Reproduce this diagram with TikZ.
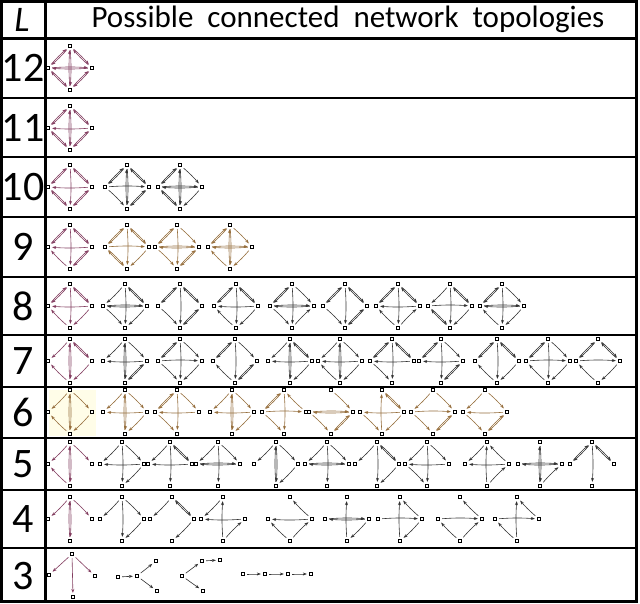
\documentclass[tikz,border=0pt]{standalone}
\usepackage{fontspec}
\setmainfont{Carlito}
\usetikzlibrary{arrows.meta}
\definecolor{plum}{RGB}{130,60,95}
\definecolor{tan}{RGB}{150,110,60}
\definecolor{pale}{RGB}{255,253,232}
\tikzset{
  vtx/.style={draw,thick,fill=white,minimum size=3.5pt,inner sep=0pt},
  edge/.style={draw=black!80,line width=0.6pt,-{Stealth[length=4pt,width=3pt]},shorten >=2pt,shorten <=2pt,bend left=4},
  rule/.style={line width=2pt},
  frame/.style={line width=3pt},
  lab/.style={font=\fontsize{42}{42}\selectfont},
}
\newcommand\dia[4][black!80]{%
  \node[vtx] (T) at (#2,#3-22) {};
  \node[vtx] (B) at (#2,#3+22) {};
  \node[vtx] (L) at (#2-22,#3) {};
  \node[vtx] (R) at (#2+22,#3) {};
  \foreach \a/\b in {#4} \draw[edge,draw=#1] (\a) to (\b);}
\begin{document}
\begin{tikzpicture}[x=1pt,y=-1pt]
\useasboundingbox (0,0) rectangle (640,603);
\fill[white] (0,0) rectangle (640,603);
\fill[pale] (49,390) rectangle (96,436);
% table
\foreach \yy in {98,157,217,277,335,387,438,490,548} \draw[rule] (0,\yy) -- (638,\yy);
\draw[frame] (0,38) -- (638,38);
\draw[frame] (45,0) -- (45,603);
\draw[frame] (1.5,1.5) rectangle (636.5,601.5);
\node[font=\fontsize{36}{36}\selectfont\itshape] (hl) at (22,20) {L};
\node[font=\fontsize{31}{31}\selectfont] (ht) at (348,19) {Possible\ \ connected\ \ network\ \ topologies};
\foreach \t/\yy in {12/68,11/128,10/187,9/247,8/306,7/361,6/412,5/464,4/519,3/576}
  \node[lab] (r\t) at (23,\yy) {\t};
% row 12
\dia[plum]{70}{68}{T/L,L/T,T/R,R/T,L/B,B/L,R/B,B/R,T/B,B/T,L/R,R/L}
% row 11
\dia[plum]{70}{128}{T/L,L/T,T/R,R/T,L/B,B/L,R/B,B/R,T/B,B/T,R/L}
% row 10
\dia[plum]{70}{187}{T/L,L/T,T/R,R/T,L/B,B/L,R/B,B/R,T/B,R/L}
\dia{127}{187}{T/L,L/T,T/R,R/T,L/B,R/B,B/R,T/B,B/T,L/R}
\dia{180}{187}{T/L,L/T,T/R,L/B,B/L,R/B,T/B,B/T,L/R,R/L}
% row 9
\dia[plum]{70}{247}{T/L,L/T,T/R,R/T,B/L,R/B,B/R,T/B,R/L}
\dia[tan]{127}{247}{T/L,L/T,T/R,R/T,L/B,B/L,R/B,T/B,L/R}
\dia[tan]{177}{247}{T/L,L/T,T/R,L/B,R/B,B/R,T/B,L/R,R/L}
\dia[tan]{230}{247}{T/L,L/T,T/R,B/L,R/B,T/B,B/T,L/R,R/L}
% row 8
\dia[plum]{70}{306}{T/L,L/T,T/R,R/T,B/L,R/B,T/B,R/L}
\dia{125}{306}{T/L,T/R,R/T,L/B,R/B,T/B,L/R,R/L}
\dia{180}{306}{T/L,L/T,T/R,R/T,L/B,R/B,B/R,T/B}
\dia{236}{306}{T/L,L/T,T/R,R/T,B/L,R/B,T/B,R/L}
\dia{292}{306}{T/L,L/T,T/R,L/B,B/R,T/B,L/R,R/L}
\dia{345}{306}{T/L,L/T,T/R,R/T,L/B,R/B,B/R,T/B}
\dia{398}{306}{T/L,L/T,T/R,R/T,B/L,B/R,T/B,R/L}
\dia{450}{306}{T/L,T/R,R/T,L/B,B/L,R/B,T/B,L/R}
\dia{502}{306}{T/L,L/T,T/R,B/L,R/B,T/B,L/R,R/L}
% row 7
\dia[plum]{70}{361}{T/L,T/R,R/T,B/L,R/B,T/B,B/T}
\dia{125}{361}{T/L,T/R,R/B,B/R,T/B,B/T,R/L}
\dia{180}{361}{T/L,L/T,T/R,L/B,R/B,T/B,L/R}
\dia{235}{361}{T/L,L/T,T/R,B/L,R/B,B/R,T/B}
\dia{290}{361}{T/L,T/R,R/T,R/B,T/B,B/T,R/L}
\dia{340}{361}{T/L,T/R,B/L,R/B,T/B,B/T,R/L}
\dia{392}{361}{T/L,L/T,T/R,R/T,L/B,T/B,R/L}
\dia{441}{361}{T/L,L/T,T/R,R/B,B/R,T/B,R/L}
\dia{497}{361}{T/L,L/T,T/R,R/T,B/L,R/B,T/B}
\dia{548}{361}{T/L,L/T,T/R,B/L,R/B,T/B,L/R}
\dia{598}{361}{T/L,L/T,T/R,R/T,B/L,R/B,L/R}
% row 6
\dia[tan]{70}{412}{T/L,T/R,B/L,R/B,T/B,B/T}
\dia[tan]{125}{412}{T/L,T/R,R/B,T/B,B/T,R/L}
\dia[tan]{177}{412}{T/L,L/T,T/R,L/B,T/B,R/L}
\dia[tan]{232}{412}{T/L,T/R,R/B,T/B,B/T,R/L}
\dia[tan]{284}{412}{T/L,L/T,R/T,L/B,T/B,L/R}
\dia[tan]{331}{412}{T/R,L/B,R/B,B/R,L/R,R/L}
\dia[tan]{382}{412}{T/R,R/T,R/B,L/B,B/T,R/L}
\dia[tan]{433}{412}{T/L,T/R,L/B,R/B,B/R,L/R}
\dia[tan]{485}{412}{T/L,T/R,L/B,R/B,B/R,R/L}
% row 5
\dia[plum]{70}{464}{T/L,T/R,B/L,T/B,B/T}
\dia{122}{464}{T/L,T/R,R/B,T/B,R/L}
\dia{170}{464}{T/L,T/R,R/T,T/B,R/L}
\dia{218}{464}{T/L,T/B,L/R,R/L,T/R}
\dia{276}{464}{T/L,T/R,R/B,T/B,B/T}
\dia{327}{464}{T/L,T/R,T/B,L/R,R/L}
\dia{377}{464}{T/L,T/R,R/T,R/B,T/B}
\dia{427}{464}{T/L,T/R,L/B,T/B,R/L}
\dia{487}{464}{T/L,B/T,B/R,R/T,R/L}
\dia{540}{464}{T/B,B/T,L/R,R/L,B/R}
\dia{592}{464}{T/L,L/T,T/R,R/T,T/B}
% row 4
\dia[plum]{70}{519}{T/L,T/R,T/B,B/T}
\dia{122}{519}{T/L,T/B,R/B,T/R}
\dia{172}{519}{T/L,T/R,R/T,R/B}
\dia{223}{519}{T/L,B/T,R/L,B/R}
\dia{290}{519}{R/T,R/L,B/L,B/R}
\dia{347}{519}{B/T,L/R,R/L,R/B}
\dia{400}{519}{B/T,L/R,R/T,R/B}
\dia{460}{519}{R/T,L/R,B/L,B/R}
\dia{517}{519}{B/T,L/R,R/T,B/L}
% row 3
\node[vtx] (a1) at (72,554) {};
\node[vtx] (a2) at (49,575) {};
\node[vtx] (a3) at (95,576) {};
\node[vtx] (a4) at (73,597) {};
\foreach \b in {a2,a3,a4} \draw[edge,draw=plum,bend left=0] (a1) to (\b);
\node[vtx] (b1) at (118,577) {};
\node[vtx] (b2) at (137,576) {};
\node[vtx] (b3) at (156,561) {};
\node[vtx] (b4) at (157,591) {};
\draw[edge,bend left=0] (b1) to (b2);
\draw[edge,bend left=0] (b2) to (b3);
\draw[edge,bend left=0] (b2) to (b4);
\node[vtx] (c1) at (182,576) {};
\node[vtx] (c2) at (202,561) {};
\node[vtx] (c3) at (220,560) {};
\node[vtx] (c4) at (203,591) {};
\draw[edge,bend left=0] (c1) to (c2);
\draw[edge,bend left=0] (c2) to (c3);
\draw[edge,bend left=0] (c1) to (c4);
\node[vtx] (d1) at (243,574) {};
\node[vtx] (d2) at (265,574) {};
\node[vtx] (d3) at (288,574) {};
\node[vtx] (d4) at (311,574) {};
\draw[edge,bend left=0] (d1) to (d2);
\draw[edge,bend left=0] (d2) to (d3);
\draw[edge,bend left=0] (d3) to (d4);
\end{tikzpicture}
\end{document}
